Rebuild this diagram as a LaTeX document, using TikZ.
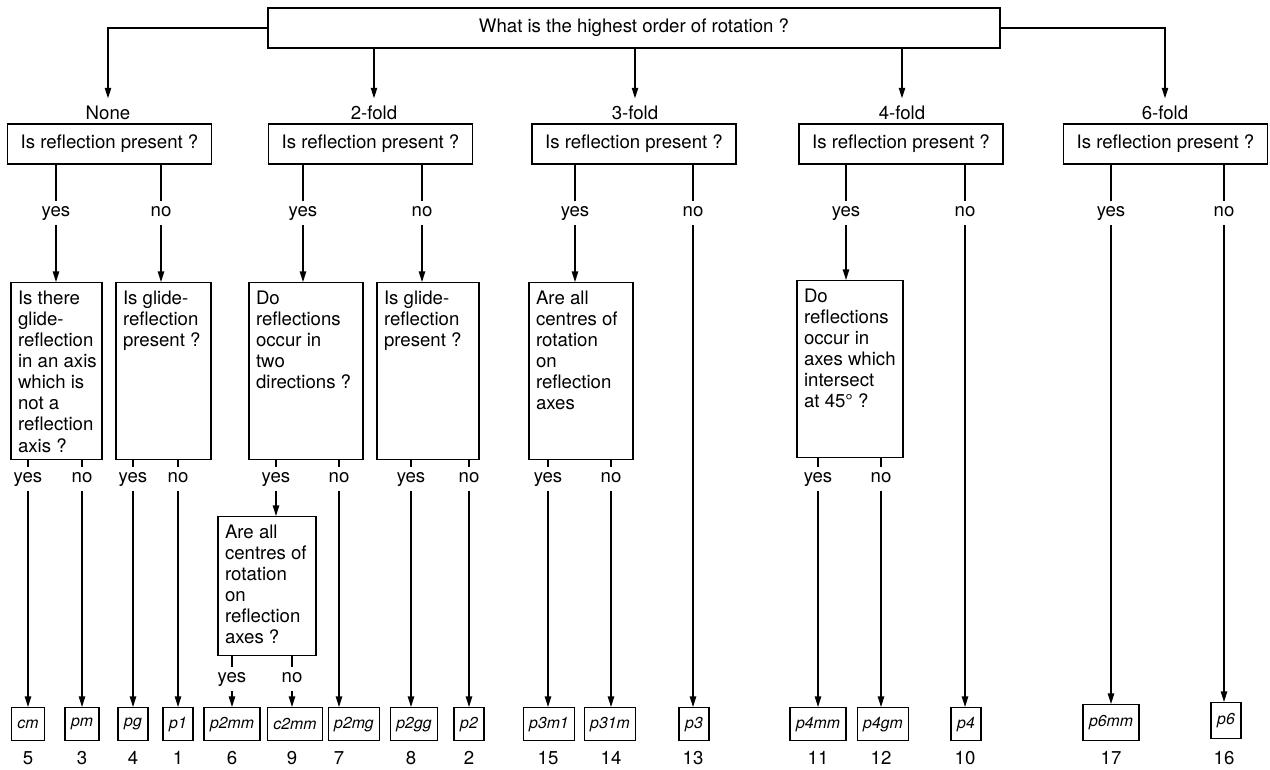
\documentclass[tikz,border=0pt]{standalone}
\usepackage{fontspec}
\setmainfont{TeX Gyre Heros}
\usetikzlibrary{arrows.meta}
\newcommand{\qlines}[3]{\parbox[t][\dimexpr#2-8pt\relax][t]{\dimexpr#1-8pt\relax}{\begin{tabular}[t]{@{}l@{}}#3\end{tabular}}}
\begin{document}
\begin{tikzpicture}[x=0.02cm, y=-0.02cm, line width=0.75pt,
    every node/.style={font=\fontsize{10.6}{12}\selectfont},
    arr/.style={-{Triangle[length=6pt,width=3.6pt]}},
    qbox/.style={draw, anchor=north, inner sep=4pt},
    refl/.style={draw, minimum width=4.08cm, minimum height=0.8cm, inner sep=2pt},
    fold/.style={inner sep=4pt},
    ans/.style={inner sep=3pt, text height=5.5pt, text depth=1.5pt},
    leaf/.style={draw, anchor=north, minimum width=0.6cm, minimum height=0.66cm, inner xsep=3.4pt, font=\fontsize{9}{10}\selectfont\itshape},
    num/.style={inner sep=1pt}]
    \useasboundingbox (0,0) rectangle (1270,769);
    \node[draw, minimum width=14.64cm, minimum height=0.8cm] (top) at (634,28) {What is the highest order of rotation ?};
    \node[fold] (fNone) at (108,113) {None};
    \node[fold] (fTwo) at (374,113) {2-fold};
    \node[fold] (fThree) at (635,113) {3-fold};
    \node[fold] (fFour) at (902,113) {4-fold};
    \node[fold] (fSix) at (1165,113) {6-fold};
    \draw[arr] (top.west) -| (fNone.north);
    \draw[arr] (top.east) -| (fSix.north);
    \draw[arr] (top.south -| fTwo.north) -- (fTwo.north);
    \draw[arr] (top.south -| fThree.north) -- (fThree.north);
    \draw[arr] (top.south -| fFour.north) -- (fFour.north);
    \node[refl] (rNone) at (109.5,144) {Is reflection present ?};
    \node[refl] (rTwo) at (370.5,144) {Is reflection present ?};
    \node[refl] (rThree) at (634,144) {Is reflection present ?};
    \node[refl] (rFour) at (901,144) {Is reflection present ?};
    \node[refl] (rSix) at (1165.5,144) {Is reflection present ?};
    \node[ans] (yNone) at (56,213) {yes};
    \node[ans] (nNone) at (161,213) {no};
    \node[ans] (yTwo) at (303,213) {yes};
    \node[ans] (nTwo) at (422,213) {no};
    \node[ans] (yThree) at (575,213) {yes};
    \node[ans] (nThree) at (693,213) {no};
    \node[ans] (yFour) at (846,213) {yes};
    \node[ans] (nFour) at (965,213) {no};
    \node[ans] (ySix) at (1111,213) {yes};
    \node[ans] (nSix) at (1224,213) {no};
    \draw (yNone |- rNone.south) -- (yNone);
    \draw (nNone |- rNone.south) -- (nNone);
    \draw (yTwo |- rTwo.south) -- (yTwo);
    \draw (nTwo |- rTwo.south) -- (nTwo);
    \draw (yThree |- rThree.south) -- (yThree);
    \draw (nThree |- rThree.south) -- (nThree);
    \draw (yFour |- rFour.south) -- (yFour);
    \draw (nFour |- rFour.south) -- (nFour);
    \draw (ySix |- rSix.south) -- (ySix);
    \draw (nSix |- rSix.south) -- (nSix);
    \node[qbox] (glideA) at (56.5,282) {\qlines{1.82cm}{3.54cm}{Is there\\glide-\\reflection\\in an axis\\which is\\not a\\reflection\\axis ?}};
    \node[qbox] (glideB) at (163.5,282) {\qlines{1.9cm}{3.54cm}{Is glide-\\reflection\\present ?}};
    \node[qbox] (twoDir) at (306,282) {\qlines{2.28cm}{3.54cm}{Do\\reflections\\occur in\\two\\directions ?}};
    \node[qbox] (glideC) at (428,282) {\qlines{2.04cm}{3.54cm}{Is glide-\\reflection\\present ?}};
    \node[qbox] (centresA) at (581,282) {\qlines{2.08cm}{3.54cm}{Are all\\centres of\\rotation\\on\\reflection\\axes}};
    \node[qbox] (axesFf) at (850,280) {\qlines{2.12cm}{3.54cm}{Do\\reflections\\occur in\\axes which\\intersect\\at 45° ?}};
    \draw[arr] (yNone) -- (yNone |- glideA.north);
    \draw[arr] (nNone) -- (nNone |- glideB.north);
    \draw[arr] (yTwo) -- (yTwo |- twoDir.north);
    \draw[arr] (nTwo) -- (nTwo |- glideC.north);
    \draw[arr] (yThree) -- (yThree |- centresA.north);
    \draw[arr] (yFour) -- (yFour |- axesFf.north);
    \node[ans] (yGa) at (28,479) {yes};
    \node[ans] (nGa) at (82,479) {no};
    \node[ans] (yGb) at (133,479) {yes};
    \node[ans] (nGb) at (178,479) {no};
    \node[ans] (yTd) at (276,479) {yes};
    \node[ans] (nTd) at (339,479) {no};
    \node[ans] (yGc) at (411,479) {yes};
    \node[ans] (nGc) at (469,479) {no};
    \node[ans] (yCa) at (548,479) {yes};
    \node[ans] (nCa) at (611,479) {no};
    \node[ans] (yAx) at (818,479) {yes};
    \node[ans] (nAx) at (881,479) {no};
    \draw (yGa |- glideA.south) -- (yGa);
    \draw (nGa |- glideA.south) -- (nGa);
    \draw (yGb |- glideB.south) -- (yGb);
    \draw (nGb |- glideB.south) -- (nGb);
    \draw (yTd |- twoDir.south) -- (yTd);
    \draw (nTd |- twoDir.south) -- (nTd);
    \draw (yGc |- glideC.south) -- (yGc);
    \draw (nGc |- glideC.south) -- (nGc);
    \draw (yCa |- centresA.south) -- (yCa);
    \draw (nCa |- centresA.south) -- (nCa);
    \draw (yAx |- axesFf.south) -- (yAx);
    \draw (nAx |- axesFf.south) -- (nAx);
    \node[qbox] (centresB) at (267,516) {\qlines{1.96cm}{2.78cm}{Are all\\centres of\\rotation\\on\\reflection\\axes ?}};
    \draw[arr] (yTd) -- (yTd |- centresB.north);
    \node[ans] (ySub) at (232,679) {yes};
    \node[ans] (nSub) at (292,679) {no};
    \draw (ySub |- centresB.south) -- (ySub);
    \draw (nSub |- centresB.south) -- (nSub);
    \node[leaf] (lcm) at (28,707) {cm};
    \node[leaf] (lpm) at (82,707) {pm};
    \node[leaf] (lpg) at (133,707) {pg};
    \node[leaf] (lpOne) at (178,707) {p1};
    \node[leaf] (lpTmm) at (232,707) {p2mm};
    \node[leaf] (lcTmm) at (295,707) {c2mm};
    \node[leaf] (lpTmg) at (354,707) {p2mg};
    \node[leaf] (lpTgg) at (414,707) {p2gg};
    \node[leaf] (lpT) at (469,707) {p2};
    \node[leaf] (lpThmo) at (549,707) {p3m1};
    \node[leaf] (lpThom) at (610,707) {p31m};
    \node[leaf] (lpTh) at (694,707) {p3};
    \node[leaf] (lpFmm) at (818,707) {p4mm};
    \node[leaf] (lpFgm) at (883,707) {p4gm};
    \node[leaf] (lpF) at (966,707) {p4};
    \node[leaf, minimum height=0.72cm] (lpSmm) at (1111,704) {p6mm};
    \node[leaf, minimum height=0.72cm] (lpS) at (1226,702) {p6};
    \draw[arr] (yGa) -- (yGa |- lcm.north);
    \draw[arr] (nGa) -- (nGa |- lpm.north);
    \draw[arr] (yGb) -- (yGb |- lpg.north);
    \draw[arr] (nGb) -- (nGb |- lpOne.north);
    \draw[arr] (ySub) -- (ySub |- lpTmm.north);
    \draw[arr] (nSub) -- (nSub |- lcTmm.north);
    \draw[arr] (nTd) -- (nTd |- lpTmg.north);
    \draw[arr] (yGc) -- (yGc |- lpTgg.north);
    \draw[arr] (nGc) -- (nGc |- lpT.north);
    \draw[arr] (yCa) -- (yCa |- lpThmo.north);
    \draw[arr] (nCa) -- (nCa |- lpThom.north);
    \draw[arr] (nThree) -- (nThree |- lpTh.north);
    \draw[arr] (yAx) -- (yAx |- lpFmm.north);
    \draw[arr] (nAx) -- (nAx |- lpFgm.north);
    \draw[arr] (nFour) -- (nFour |- lpF.north);
    \draw[arr] (ySix) -- (ySix |- lpSmm.north);
    \draw[arr] (nSix) -- (nSix |- lpS.north);
    \node[num] (kFive) at (28,758) {5};
    \node[num] (kThree) at (82,758) {3};
    \node[num] (kFour) at (133,758) {4};
    \node[num] (kOne) at (178,758) {1};
    \node[num] (kSix) at (232,758) {6};
    \node[num] (kNine) at (292,758) {9};
    \node[num] (kSeven) at (339,758) {7};
    \node[num] (kEight) at (411,758) {8};
    \node[num] (kTwo) at (469,758) {2};
    \node[num] (kFifteen) at (548,758) {15};
    \node[num] (kFourteen) at (611,758) {14};
    \node[num] (kThirteen) at (693,758) {13};
    \node[num] (kEleven) at (818,758) {11};
    \node[num] (kTwelve) at (881,758) {12};
    \node[num] (kTen) at (965,758) {10};
    \node[num] (kSeventeen) at (1111,758) {17};
    \node[num] (kSixteen) at (1224,758) {16};
\end{tikzpicture}
\end{document}
